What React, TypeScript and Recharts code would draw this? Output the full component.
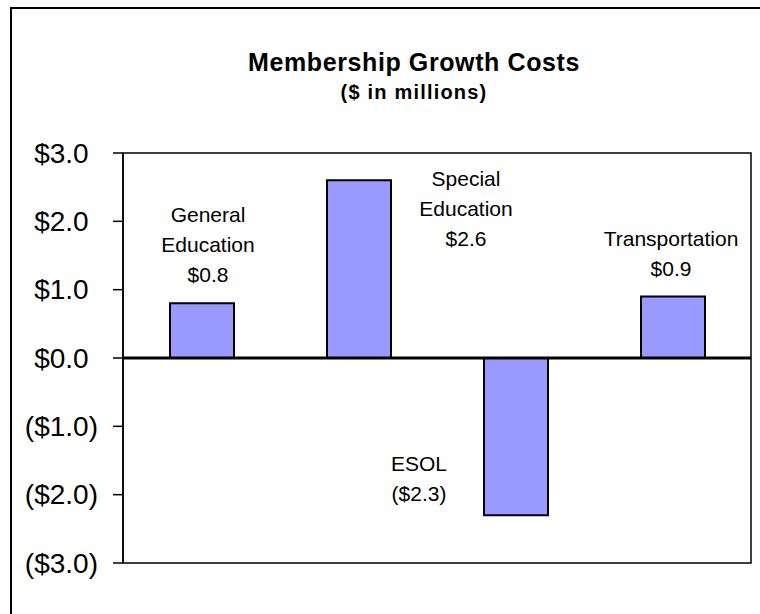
import { BarChart, Bar, XAxis, YAxis, ReferenceArea, ReferenceLine, LabelList } from 'recharts';

// categories and values ($ in millions)
const categories = ['General Education', 'Special Education', 'ESOL', 'Transportation'];
const costs = [0.8, 2.6, -2.3, 0.9];
const yTicks = [-3, -2, -1, 0, 1, 2, 3];

const data = categories.map((name, i) => ({ name, cost: costs[i] }));

// hand-placed label offsets, like the original sheet (dx from bar centre, dy of first line from bar end)
const labelOffsets = [
  { dx: 6, dy: -89 },
  { dx: 107, dy: -2 },
  { dx: -97, dy: -52 },
  { dx: -2, dy: -58 },
];

const FONT = '"Liberation Sans", Arial, sans-serif';

const money = (v: number) => (v < 0 ? `($${Math.abs(v).toFixed(1)})` : `$${v.toFixed(1)}`);

// accounting-style tick: positives keep room for the closing paren
function YTick(props: any) {
  const { x, y, payload } = props;
  const v = payload.value as number;
  return (
    <text x={x} y={y} textAnchor='end' dominantBaseline='central' fontFamily={FONT} fontSize={28} fill='#000'>
      {money(v)}
      {v >= 0 && <tspan fillOpacity={0}>)</tspan>}
    </text>
  );
}

function BarLabel(props: any) {
  const { x, y, width, height, index } = props;
  const v = costs[index];
  const top = Math.min(y, y + height);
  const bottom = Math.max(y, y + height);
  const end = v >= 0 ? top : bottom;
  const off = labelOffsets[index];
  const lines = [...categories[index].split(' '), money(v)];
  const cx = x + width / 2 + off.dx;
  return (
    <g>
      {lines.map((l, i) => (
        <text
          key={i}
          x={cx}
          y={end + off.dy + i * 30}
          textAnchor='middle'
          dominantBaseline='central'
          fontFamily={FONT}
          fontSize={21}
          fill='#000'
        >
          {l}
        </text>
      ))}
    </g>
  );
}

export default function App() {
  return (
    <div style={{ position: 'absolute', left: 0, top: 0, width: 760, height: 614, overflow: 'hidden', background: '#fff' }}>
      {/* outer chart frame, runs off the right and bottom edges */}
      <div style={{ position: 'absolute', left: 10, top: 7, width: 750, height: 607, borderLeft: '2px solid #000', borderTop: '2px solid #000' }} />
      <div style={{ position: 'absolute', left: 164, width: 500, top: 48, textAlign: 'center', fontFamily: FONT, fontWeight: 'bold', fontSize: 25, letterSpacing: 0.6 }}>
        Membership Growth Costs
      </div>
      <div style={{ position: 'absolute', left: 164, width: 500, top: 81, textAlign: 'center', fontFamily: FONT, fontWeight: 'bold', fontSize: 20, letterSpacing: 1.2 }}>
        ($ in millions)
      </div>
      <div style={{ position: 'absolute', left: 0, top: 0 }}>
        <BarChart width={760} height={614} data={data} margin={{ top: 153, right: 9, bottom: 51, left: 0 }}>
          <XAxis dataKey='name' hide />
          <YAxis
            width={123}
            domain={[-3, 3]}
            ticks={yTicks}
            interval={0}
            axisLine={{ stroke: '#000', strokeWidth: 1.5 }}
            tickLine={{ stroke: '#000', strokeWidth: 1.5 }}
            tickSize={10}
            tickMargin={15}
            tick={<YTick />}
          />
          <ReferenceArea y1={-3} y2={3} fill='none' stroke='#000' strokeWidth={1.5} />
          <Bar dataKey='cost' fill='#9999FF' stroke='#000' strokeWidth={2} barSize={64} isAnimationActive={false}>
            <LabelList dataKey='cost' content={BarLabel} />
          </Bar>
          <ReferenceLine y={0} stroke='#000' strokeWidth={3} />
        </BarChart>
      </div>
    </div>
  );
}
